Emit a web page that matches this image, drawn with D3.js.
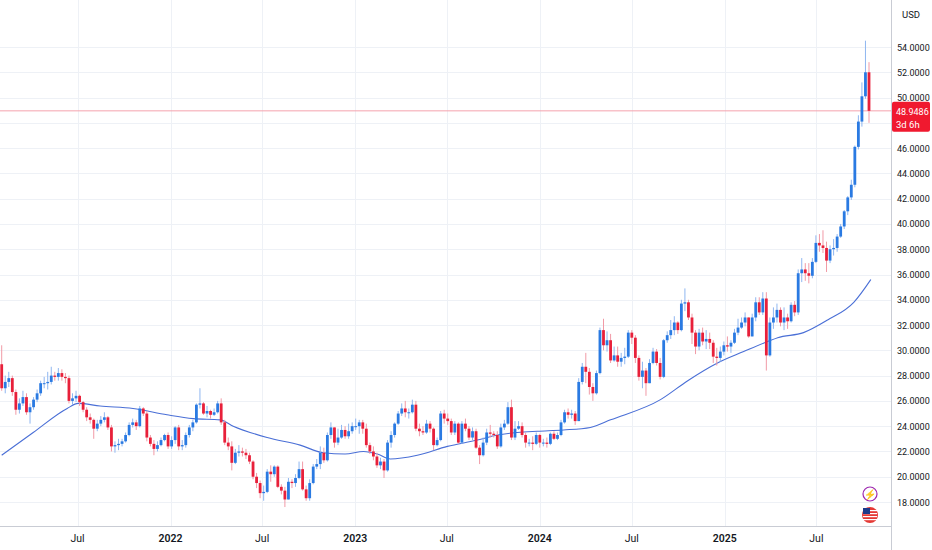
<!DOCTYPE html>
<html><head><meta charset="utf-8">
<script src="https://cdn.jsdelivr.net/npm/d3@7"></script>
<style>body{margin:0;background:#fff}svg{display:block;font-family:Roboto,"Noto Sans",sans-serif}</style>
</head><body><svg id="c" width="932" height="550"></svg>
<script>
const lastWeek = "2025-10-13";
const firstOpen = 28.9;
const closes = [
27.0,27.5,27.8,26.7,25.3,25.8,26.3,25.1,25.5,26.1,26.6,27.4,27.4,27.5,28.0,27.9,28.2,27.9,27.8,26.0,26.2,26.4,
25.9,25.3,24.7,24.5,23.8,24.2,24.5,24.7,23.9,22.4,22.5,22.6,22.8,23.3,24.1,24.3,24.0,25.4,25.0,23.1,22.6,22.2,22.5,22.9,23.3,22.4,
22.9,23.9,22.4,22.5,23.3,23.9,24.3,25.7,25.8,25.0,25.2,24.9,25.1,25.8,24.3,22.7,22.4,21.1,21.9,22.0,21.9,21.7,21.2,20.0,19.5,18.7,
18.8,20.4,20.2,20.8,19.2,18.9,18.2,19.6,19.5,19.9,20.6,19.0,18.3,19.5,20.8,21.0,21.9,21.3,23.3,23.9,22.7,23.1,23.7,23.2,23.6,24.0,
24.0,24.3,23.8,22.5,22.0,21.6,20.9,21.2,20.5,22.7,23.3,24.2,25.0,25.4,25.1,25.1,25.7,23.8,23.6,23.5,24.2,23.8,22.5,22.9,25.0,24.6,
24.4,23.5,24.2,22.7,24.2,23.8,23.1,23.6,22.3,21.7,22.7,23.5,23.4,23.3,22.4,23.9,24.2,25.5,23.1,23.8,24.0,23.3,22.7,22.7,22.6,23.3,
22.7,22.7,22.6,23.4,23.0,23.3,24.3,25.1,24.9,25.0,24.4,27.5,28.7,28.3,27.1,26.6,28.2,31.6,30.4,30.8,29.2,29.6,29.1,29.4,29.5,31.4,
31.0,29.4,27.9,28.4,27.4,29.0,29.9,29.0,27.9,30.8,31.2,31.6,32.2,31.6,33.7,33.8,32.6,31.4,30.3,31.4,30.7,30.9,30.6,29.5,29.4,29.9,
30.4,30.3,30.6,31.4,31.8,32.2,32.6,31.1,32.6,33.8,33.0,34.1,29.6,32.2,32.6,33.2,32.2,32.6,32.3,33.6,33.0,36.1,36.4,36.1,35.9,37.0,
38.5,38.3,38.1,37.1,38.0,38.1,39.0,39.8,41.0,42.1,43.1,46.1,48.1,50.1,52.0,48.9486];
const highs = [
30.4,28.0,28.3,28.0,26.9,26.2,26.8,26.6,25.8,26.3,26.9,27.6,27.9,28.3,28.7,28.3,28.6,28.5,28.2,28.0,26.6,26.8,
26.5,26.0,25.5,25.0,24.6,24.5,24.8,25.1,24.8,24.1,22.8,23.0,23.0,23.5,24.3,24.6,24.5,25.6,25.5,25.2,23.3,22.9,22.8,23.1,23.4,23.5,
23.2,24.0,24.1,22.9,23.5,24.1,24.5,25.8,27.0,25.9,25.6,25.3,25.4,26.0,26.2,24.5,23.1,22.8,22.2,22.5,22.3,22.2,21.9,21.3,20.3,19.7,
19.3,20.6,20.9,20.9,20.9,19.4,19.2,19.9,19.8,20.2,21.2,21.2,19.3,19.8,21.0,21.4,22.4,22.3,23.5,24.3,23.9,23.8,24.1,24.0,24.2,24.3,
24.6,24.5,24.5,24.2,22.7,22.4,21.9,21.5,21.4,22.9,23.6,24.3,25.2,25.8,26.0,25.4,26.1,26.0,24.2,24.0,24.5,24.4,23.9,23.1,25.2,25.3,
25.0,24.6,24.4,24.3,24.4,24.6,24.0,23.9,23.8,22.5,23.1,23.8,24.1,23.6,23.6,24.2,24.5,25.9,26.1,24.4,24.4,24.3,23.5,23.0,23.2,23.5,
23.4,23.0,23.1,23.5,23.6,23.5,24.5,25.3,25.4,25.3,25.2,27.8,29.0,29.8,28.6,27.4,28.4,31.8,32.5,31.5,31.3,30.3,30.3,29.8,30.2,31.6,
31.6,31.2,29.6,29.1,28.6,29.3,30.2,30.1,29.4,30.9,31.5,32.4,32.7,32.3,34.0,34.9,34.0,32.9,31.6,31.7,31.8,31.6,31.4,30.8,30.2,30.3,
30.7,31.1,30.8,31.7,32.5,32.6,33.0,32.6,32.9,34.2,34.2,34.6,34.6,32.6,33.4,33.7,33.4,33.4,32.9,33.8,33.9,36.4,37.3,36.9,36.9,37.3,
39.1,39.2,39.5,38.6,38.3,38.8,39.2,40.0,41.1,42.2,43.5,46.2,48.6,51.2,54.5,52.8];
const lows = [
26.8,26.6,27.1,26.4,24.9,25.0,25.6,24.9,24.2,25.3,25.9,26.4,27.0,26.9,27.3,27.6,27.6,27.6,27.4,25.8,25.7,25.9,
25.6,25.1,24.4,24.2,23.0,23.6,24.0,24.3,23.7,22.0,21.9,22.1,22.4,22.7,23.2,23.9,23.7,23.9,24.8,22.8,22.4,21.7,22.0,22.4,22.8,22.2,
22.2,22.6,22.1,22.1,22.3,23.1,23.6,24.2,25.4,24.9,24.7,24.6,24.8,25.0,24.1,22.5,22.1,20.5,21.0,21.6,21.6,21.4,21.0,19.8,19.1,18.3,
18.1,18.7,19.6,20.0,19.1,18.6,17.6,18.2,19.1,19.2,19.8,18.9,18.1,18.1,19.4,20.6,20.6,21.1,21.2,23.0,22.3,22.5,23.0,23.0,23.0,23.4,
23.7,23.4,23.4,22.3,21.8,21.3,20.7,20.6,19.9,20.4,22.3,23.1,24.1,24.8,24.7,24.6,25.0,23.6,23.2,23.3,23.4,23.5,22.1,22.4,22.8,24.2,
24.1,23.3,23.3,22.6,22.6,23.6,22.9,22.9,22.2,21.0,21.6,22.5,23.1,23.1,22.2,22.3,23.7,24.1,22.9,22.9,23.7,23.1,22.3,22.4,22.1,22.5,
22.3,22.4,22.3,22.5,22.9,22.9,23.2,24.2,24.6,24.6,24.1,24.4,27.3,27.4,26.5,26.0,26.5,28.1,30.0,29.9,29.0,29.1,28.7,28.7,28.9,29.4,
30.5,29.0,27.6,27.0,26.4,27.4,28.9,28.8,27.7,27.8,30.6,30.9,31.2,31.3,31.5,33.1,32.4,30.5,29.7,30.0,30.4,30.1,30.1,29.0,28.8,29.1,
29.6,29.9,29.8,30.5,31.2,31.7,31.9,31.0,31.1,32.3,32.8,32.8,28.4,29.5,31.7,32.2,31.9,31.6,31.7,32.2,32.7,32.8,35.4,35.5,35.3,35.7,
36.9,37.8,37.7,36.2,36.9,37.5,37.8,38.9,39.6,40.7,41.9,42.9,45.9,47.7,49.9,48.0];
const maWeek = [0,8.9,18.5,21.6,27.8,37.1,46.7,54.1,61.7,65.4,75,84.3,90.8,97,102.2,106.1,109.8,117.4,125.9,134.4,140,145.7,151.3,158.7,166.3,172,186.1,193.8,202.2,209.6,216.4,219.2,226.5,233.3,240.7,245.5];
const maVal  = [21.7,23.5,25.4,25.8,25.6,25.4,24.9,24.6,24.5,24.0,23.1,22.5,21.9,21.8,22.0,21.8,21.4,21.7,22.4,22.9,23.3,23.5,23.6,23.7,23.9,24.5,26.1,27.6,29.0,29.9,30.7,31.0,31.4,32.4,33.8,35.6];
const yTicks = d3.range(18, 55, 2);
const xTicks = [["2021-07-01","Jul"],["2022-01-01","2022"],["2022-07-01","Jul"],["2023-01-01","2023"],["2023-07-01","Jul"],["2024-01-01","2024"],["2024-07-01","Jul"],["2025-01-01","2025"],["2025-07-01","Jul"]];

const N = closes.length;
const lastD = new Date(lastWeek+"T00:00:00");
const dates = closes.map((_,i)=>d3.timeWeek.offset(lastD, i-(N-1)));
const data = closes.map((c,i)=>({d:dates[i], o:i?closes[i-1]:firstOpen, c, h:highs[i], l:lows[i]}));

const W=891, H=526;
const svg=d3.select("#c");
const x=d3.scaleTime().domain([dates[0],dates[N-1]]).range([1.7,869]);
const xi=d3.scaleLinear().domain([0,N-1]).range([1.7,869]);
const y=d3.scaleLinear().domain([18,54]).range([502,47]);
const UP="#2a7ae2", DN="#e8203a";

const g=svg.append("g");
g.selectAll(".hg").data(yTicks).join("line").attr("x1",0).attr("x2",W).attr("y1",d=>Math.round(y(d))+.5).attr("y2",d=>Math.round(y(d))+.5).attr("stroke","#eef1f6");
g.selectAll(".vg").data(xTicks).join("line").attr("y1",0).attr("y2",H).attr("x1",d=>Math.round(x(new Date(d[0]+"T00:00:00")))+.5).attr("x2",d=>Math.round(x(new Date(d[0]+"T00:00:00")))+.5).attr("stroke","#eef1f6");

g.append("line").attr("x1",0).attr("x2",W).attr("y1",y(48.9486)).attr("y2",y(48.9486)).attr("stroke","#f5a3ad").attr("stroke-width",1);

const ma=maWeek.map((w,i)=>[xi(w),y(maVal[i])]);
g.append("path").attr("d",d3.line().curve(d3.curveMonotoneX)(ma)).attr("fill","none").attr("stroke","#4a6fd6").attr("stroke-width",1.1);

const cg=g.append("g");
cg.selectAll(".w").data(data).join("line").attr("x1",d=>x(d.d)).attr("x2",d=>x(d.d)).attr("y1",d=>y(d.h)).attr("y2",d=>y(d.l))
 .attr("stroke",d=>d.c>=d.o?"#8fb6f0":"#f19aa6").attr("stroke-width",1);
cg.selectAll(".b").data(data).join("rect").attr("x",d=>x(d.d)-1.4).attr("width",2.8)
 .attr("y",d=>y(Math.max(d.o,d.c))).attr("height",d=>Math.max(1,Math.abs(y(d.o)-y(d.c))))
 .attr("fill",d=>d.c>=d.o?UP:DN);

svg.append("line").attr("x1",W+.5).attr("x2",W+.5).attr("y1",0).attr("y2",550).attr("stroke","#c9ccd4");
svg.append("line").attr("x1",0).attr("x2",W).attr("y1",H+.5).attr("y2",H+.5).attr("stroke","#c9ccd4");

svg.selectAll(".yl").data(yTicks.filter(v=>v!==48)).join("text").attr("x",897).attr("y",d=>y(d)+3.5).attr("font-size",9)
 .attr("fill","#131722").text(d=>d.toFixed(4));
svg.append("text").attr("x",902).attr("y",18).attr("font-size",9.5).attr("fill","#131722").text("USD");
svg.selectAll(".xl").data(xTicks).join("text").attr("x",d=>x(new Date(d[0]+"T00:00:00"))).attr("y",542).attr("text-anchor","middle")
 .attr("font-size",10.5).attr("font-weight",d=>d[1]==="Jul"?400:600).attr("fill","#131722").text(d=>d[1]);

const py=y(48.9486);
svg.append("rect").attr("x",892).attr("y",py-9).attr("width",38).attr("height",30).attr("rx",2).attr("fill","#f0192f");
svg.append("text").attr("x",896).attr("y",py+4).attr("font-size",9).attr("fill","#fff").text("48.9486");
svg.append("text").attr("x",896).attr("y",py+17).attr("font-size",9.5).attr("fill","#fff").text("3d 6h");

svg.append("circle").attr("cx",870).attr("cy",494).attr("r",7).attr("fill","#fff").attr("stroke","#9c27b0").attr("stroke-width",1.2);
svg.append("text").attr("x",870).attr("y",498).attr("text-anchor","middle").attr("font-size",10).attr("fill","#9c27b0").text("⚡");
svg.append("circle").attr("cx",870).attr("cy",515).attr("r",8).attr("fill","#e53935");
for(let k=0;k<4;k++) svg.append("rect").attr("x",863).attr("y",510+k*3).attr("width",14).attr("height",1.2).attr("fill","#fff");
svg.append("rect").attr("x",863).attr("y",508).attr("width",7).attr("height",6).attr("fill","#1e3a8a");
</script></body></html>
